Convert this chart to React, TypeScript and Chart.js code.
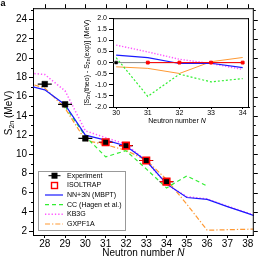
import React, { useEffect, useRef } from 'react';
import { Chart, registerables } from 'chart.js';
Chart.register(...registerables);

const FF = '"Liberation Sans", Arial, sans-serif';

// Main panel data (S2n in MeV vs neutron number N)
const expN = [28, 29, 30, 31, 32, 33, 34];
const expS2n = [17.3, 15.2, 11.65, 11.25, 10.9, 9.35, 7.15];
const isoN = [31, 32, 33, 34];
const isoS2n = [11.25, 10.9, 9.35, 7.15];
const theoN = [27, 28, 29, 30, 31, 32, 33, 34, 35, 36, 37, 38, 39];
const mbptS2n = [17.25, 16.7, 15.15, 11.99, 11.47, 10.86, 9.32, 6.92, 5.5, 5.3, 4.55, 3.85, 3.1];
const kb3gS2n = [18.5, 18.3, 16.6, 12.44, 11.73, 11.05, 9.31, 6.84, 5.6, 5.35, 4.6, 3.9, 3.15];
const gxpfS2n = [17.5, 16.9, 14.8, 11.46, 10.99, 10.41, 9.39, 7.38, 4.8, 2.1, 2.15, 2.2, 2.25];
const ccN = [29, 30, 31, 32, 33, 34, 35, 36];
const ccS2n = [15.0, 11.87, 9.73, 10.38, 8.48, 6.5, 7.75, 6.7];
const mainXTicks = [28, 29, 30, 31, 32, 33, 34, 35, 36, 37, 38];
const mainYTicks = [2, 4, 6, 8, 10, 12, 14, 16, 18, 20, 22, 24];

// Inset data: S2n(theo) - S2n(exp)
const insetN = [30, 31, 32, 33, 34];
const diffMbpt = [0.34, 0.22, -0.04, -0.03, -0.23];
const diffCC = [0.22, -1.52, -0.52, -0.87, -0.72];
const diffKb3g = [0.79, 0.48, 0.15, -0.04, -0.31];
const diffGxpf = [-0.19, -0.26, -0.49, 0.04, 0.23];
const diffExpN = [30];
const diffExp = [0];
const diffIsoN = [31, 32, 33, 34];
const diffIso = [0, 0, 0, 0];
const zeroN = [29, 34];
const zeroV = [0, 0];
const insetXTicks = [30, 31, 32, 33, 34];
const insetYTicks = [-2, -1.5, -1, -0.5, 0, 0.5, 1, 1.5, 2];

const BLUE = '#1a1aff';
const GREEN = '#33ee33';
const MAGENTA = '#ff55ff';
const ORANGE = '#ff9933';
const RED = '#ff0000';

const pts = (xs: number[], ys: number[]) => xs.map((x, i) => ({ x, y: ys[i] }));

type Part = [string, string, number];
function drawParts(ctx: CanvasRenderingContext2D, parts: Part[], x: number, y: number, align: 'center' | 'left') {
  let total = 0;
  for (const p of parts) { ctx.font = p[1]; total += ctx.measureText(p[0]).width; }
  let cx = align === 'center' ? x - total / 2 : x;
  ctx.textAlign = 'left';
  for (const p of parts) {
    ctx.font = p[1];
    ctx.fillText(p[0], cx, y + p[2]);
    cx += ctx.measureText(p[0]).width;
  }
}

const lineDs = (label: string, xs: number[], ys: number[], color: string, dash: number[], width = 1.2) => ({
  label,
  data: pts(xs, ys),
  showLine: true,
  borderColor: color,
  backgroundColor: color,
  borderWidth: width,
  borderDash: dash,
  pointRadius: 0,
  tension: 0,
});

export default function App() {
  const mainRef = useRef<HTMLCanvasElement>(null);
  const insetRef = useRef<HTMLCanvasElement>(null);

  useEffect(() => {
    Chart.defaults.font.family = FF;
    Chart.defaults.color = '#000';

    const mainPlugin = {
      id: 'mainDecor',
      afterDraw(chart: any) {
        const ctx = chart.ctx as CanvasRenderingContext2D;
        const { left, right, top, bottom } = chart.chartArea;
        const xs = chart.scales.x;
        const ys = chart.scales.y;
        ctx.save();
        ctx.strokeStyle = '#000';
        ctx.lineWidth = 1;
        ctx.beginPath();
        ctx.moveTo(left, top + 0.5); ctx.lineTo(right, top + 0.5);
        ctx.moveTo(right - 0.5, top); ctx.lineTo(right - 0.5, bottom);
        // minor y ticks left, all ticks right
        for (let v = 2; v <= 25; v++) {
          const py = Math.round(ys.getPixelForValue(v)) + 0.5;
          if (v % 2 === 1) { ctx.moveTo(left - 2, py); ctx.lineTo(left, py); }
          ctx.moveTo(right, py); ctx.lineTo(right + (v % 2 === 0 ? 4 : 2), py);
        }
        for (const n of mainXTicks) {
          const px = Math.round(xs.getPixelForValue(n)) + 0.5;
          ctx.moveTo(px, top); ctx.lineTo(px, top - 4);
        }
        ctx.stroke();

        // panel label
        ctx.fillStyle = '#000';
        ctx.textBaseline = 'top';
        ctx.textAlign = 'left';
        ctx.font = `bold 9px ${FF}`;
        ctx.fillText('a', 0.5, -0.5);

        // axis titles
        ctx.textBaseline = 'alphabetic';
        drawParts(ctx, [['Neutron number ', `10px ${FF}`, 0], ['N', `italic 10px ${FF}`, 0]], (left + right) / 2, 256, 'center');
        ctx.save();
        ctx.translate(11.5, 113);
        ctx.rotate(-Math.PI / 2);
        drawParts(ctx, [['S', `10px ${FF}`, 0], ['2n', `7px ${FF}`, 2.5], [' (MeV)', `10px ${FF}`, 0]], 0, 0, 'center');
        ctx.restore();

        // legend
        const bx = 38.5, by = 171.5, bw = 87, bh = 59;
        ctx.fillStyle = '#fff';
        ctx.fillRect(bx, by, bw, bh);
        ctx.strokeStyle = '#999';
        ctx.lineWidth = 1;
        ctx.strokeRect(bx, by, bw, bh);
        const rows = [175.7, 185.5, 195, 204.7, 214.3, 224];
        const sx0 = 45, sx1 = 63, mx = 54.5, tx = 67;
        ctx.setLineDash([]);
        // Experiment
        ctx.strokeStyle = '#000';
        ctx.beginPath(); ctx.moveTo(mx - 6, rows[0]); ctx.lineTo(mx + 6, rows[0]); ctx.stroke();
        ctx.fillStyle = '#000';
        ctx.fillRect(mx - 3, rows[0] - 3, 6, 6);
        // ISOLTRAP
        ctx.strokeStyle = RED;
        ctx.lineWidth = 1.4;
        ctx.strokeRect(mx - 3, rows[1] - 3, 6, 6);
        const lines: [string, number[], number][] = [[BLUE, [], 1.2], [GREEN, [4, 3], 1.2], [MAGENTA, [1.3, 2], 1.5], [ORANGE, [5, 2, 1.3, 2], 1.2]];
        lines.forEach((l, i) => {
          ctx.strokeStyle = l[0];
          ctx.setLineDash(l[1]);
          ctx.lineWidth = l[2];
          ctx.beginPath(); ctx.moveTo(sx0, rows[i + 2]); ctx.lineTo(sx1, rows[i + 2]); ctx.stroke();
        });
        ctx.setLineDash([]);
        ctx.fillStyle = '#000';
        ctx.font = `7px ${FF}`;
        ctx.textBaseline = 'middle';
        ctx.textAlign = 'left';
        ['Experiment', 'ISOLTRAP', 'NN+3N (MBPT)', 'CC (Hagen et al.)', 'KB3G', 'GXPF1A'].forEach((t, i) => ctx.fillText(t, tx, rows[i]));
        ctx.restore();
      },
    };

    const main = new Chart(mainRef.current!, {
      type: 'scatter',
      data: {
        datasets: [
          { label: 'ISOLTRAP', data: pts(isoN, isoS2n), pointStyle: 'rect', pointRadius: 4.6, borderColor: RED, borderWidth: 1.6, backgroundColor: 'rgba(0,0,0,0)', showLine: false },
          { label: 'Experiment', data: pts(expN, expS2n), pointStyle: 'rect', pointRadius: 4.0, borderColor: '#000', backgroundColor: '#000', borderWidth: 0.5, showLine: false },
          { label: 'isoBar', data: pts(isoN, isoS2n), pointStyle: 'line', pointRadius: 6.5, borderColor: RED, borderWidth: 1.2, showLine: false },
          { label: 'expBar', data: pts(expN, expS2n), pointStyle: 'line', pointRadius: 7, borderColor: '#000', borderWidth: 1.2, showLine: false },
          lineDs('NN+3N (MBPT)', theoN, mbptS2n, BLUE, [], 1.2),
          lineDs('CC (Hagen et al.)', ccN, ccS2n, GREEN, [4, 3], 1.2),
          lineDs('KB3G', theoN, kb3gS2n, MAGENTA, [1.3, 2], 1.5),
          lineDs('GXPF1A', theoN, gxpfS2n, ORANGE, [5, 2, 1.3, 2], 1.2),
        ] as any,
      },
      options: {
        responsive: false,
        animation: false,
        events: [],
        layout: { padding: { left: 0, top: 5, right: 3, bottom: 0 } },
        plugins: { legend: { display: false }, tooltip: { enabled: false } },
        scales: {
          x: {
            type: 'linear', min: 27.42, max: 38.3,
            afterBuildTicks: (s: any) => { s.ticks = mainXTicks.map((v) => ({ value: v })); },
            afterFit: (s: any) => { s.height = 27; },
            grid: { drawOnChartArea: false, drawTicks: true, tickLength: 3, color: '#000' },
            border: { display: true, color: '#000', width: 1 },
            ticks: { font: { size: 10, family: FF }, color: '#000', padding: 0, maxRotation: 0, autoSkip: false },
          },
          y: {
            type: 'linear', min: 1.6, max: 25.2,
            afterBuildTicks: (s: any) => { s.ticks = mainYTicks.map((v) => ({ value: v })); },
            afterFit: (s: any) => { s.width = 33; },
            grid: { drawOnChartArea: false, drawTicks: true, tickLength: 4, color: '#000' },
            border: { display: true, color: '#000', width: 1 },
            ticks: { font: { size: 10, family: FF }, color: '#000', padding: 2, autoSkip: false },
          },
        },
      } as any,
      plugins: [mainPlugin],
    });

    const insetPlugin = {
      id: 'insetDecor',
      afterDraw(chart: any) {
        const ctx = chart.ctx as CanvasRenderingContext2D;
        const { left, right, top, bottom } = chart.chartArea;
        ctx.save();
        ctx.strokeStyle = '#000';
        ctx.lineWidth = 1;
        ctx.beginPath();
        ctx.moveTo(left, top + 0.5); ctx.lineTo(right, top + 0.5);
        ctx.moveTo(right - 0.5, top); ctx.lineTo(right - 0.5, bottom);
        ctx.stroke();
        ctx.fillStyle = '#000';
        ctx.textBaseline = 'alphabetic';
        drawParts(ctx, [['Neutron number ', `7px ${FF}`, 0], ['N', `italic 7px ${FF}`, 0]], 99, 111, 'center');
        ctx.save();
        ctx.translate(10.5, (top + bottom) / 2);
        ctx.rotate(-Math.PI / 2);
        const f = `7px ${FF}`, sf = `5px ${FF}`;
        drawParts(ctx, [['[S', f, 0], ['2n', sf, 1.8], ['(theo) - S', f, 0], ['2n', sf, 1.8], ['(exp)] (MeV)', f, 0]], 0, 0, 'center');
        ctx.restore();
        ctx.restore();
      },
    };

    const inset = new Chart(insetRef.current!, {
      type: 'scatter',
      data: {
        datasets: [
          { label: 'expZero', data: pts(diffExpN, diffExp), pointStyle: 'rect', pointRadius: 2, borderColor: '#000', backgroundColor: '#000', borderWidth: 0.5, showLine: false },
          { label: 'iso', data: pts(diffIsoN, diffIso), pointStyle: 'rect', pointRadius: 2, borderColor: RED, backgroundColor: RED, borderWidth: 1, showLine: true },
          lineDs('NN+3N (MBPT)', insetN, diffMbpt, BLUE, [], 1.2),
          lineDs('CC (Hagen et al.)', insetN, diffCC, GREEN, [2, 2], 1.2),
          lineDs('KB3G', insetN, diffKb3g, MAGENTA, [1.3, 1.7], 1.4),
          lineDs('GXPF1A', insetN, diffGxpf, ORANGE, [], 1.0),
          lineDs('zero', zeroN, zeroV, '#888', [], 1),
        ] as any,
      },
      options: {
        responsive: false,
        animation: false,
        events: [],
        layout: { padding: { left: 0, top: 6, right: 5, bottom: 0 } },
        plugins: { legend: { display: false }, tooltip: { enabled: false } },
        scales: {
          x: {
            type: 'linear', min: 29.9, max: 34.2,
            afterBuildTicks: (s: any) => { s.ticks = insetXTicks.map((v) => ({ value: v })); },
            afterFit: (s: any) => { s.height = 21; },
            grid: { drawOnChartArea: false, drawTicks: true, tickLength: 2, color: '#000' },
            border: { display: true, color: '#000', width: 1 },
            ticks: { font: { size: 7, family: FF }, color: '#000', padding: 0, maxRotation: 0, autoSkip: false },
          },
          y: {
            type: 'linear', min: -2, max: 2,
            afterBuildTicks: (s: any) => { s.ticks = insetYTicks.map((v) => ({ value: v })); },
            afterFit: (s: any) => { s.width = 35; },
            grid: { drawOnChartArea: false, drawTicks: true, tickLength: 4, color: '#000' },
            border: { display: true, color: '#000', width: 1 },
            ticks: { font: { size: 7, family: FF }, color: '#000', padding: 2, autoSkip: false, callback: (v: any) => Number(v).toFixed(1) },
          },
        },
      } as any,
      plugins: [insetPlugin],
    });

    return () => { main.destroy(); inset.destroy(); };
  }, []);

  return (
    <div style={{ position: 'absolute', left: 0, top: 0, width: 262, height: 262, background: '#fff' }}>
      <canvas ref={mainRef} width={262} height={262} style={{ position: 'absolute', left: 0, top: 0, width: 262, height: 262 }} />
      <canvas ref={insetRef} width={176} height={116} style={{ position: 'absolute', left: 78, top: 12, width: 176, height: 116 }} />
    </div>
  );
}
